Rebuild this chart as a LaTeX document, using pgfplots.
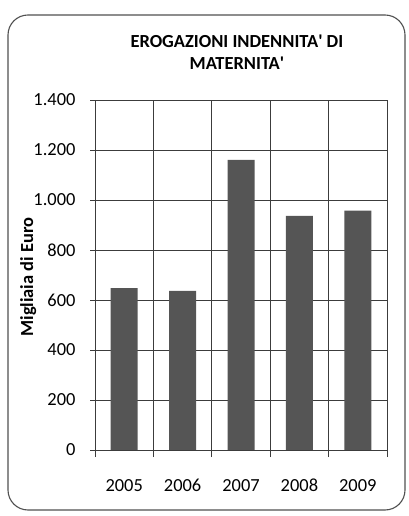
\documentclass[border=0pt]{standalone}
\usepackage{fontspec}
\setmainfont{Carlito}
\usepackage{pgfplots}
\pgfplotsset{compat=1.18}

\definecolor{bargray}{HTML}{555555}
\definecolor{gridgray}{HTML}{3C3C3C}
\definecolor{framegray}{HTML}{505050}

\begin{document}
\begin{tikzpicture}[x=1bp,y=1bp]
% page = 408 x 516 px
\path[use as bounding box] (0,0) rectangle (408,516);
\draw[framegray, line width=1.1bp, rounded corners=20bp] (8,6) rectangle (405,501);

\begin{axis}[
    at={(95bp,66bp)}, anchor=south west,
    scale only axis,
    width=292bp, height=350bp,
    font=\fontsize{18.5}{22}\selectfont,
    xmin=-0.5, xmax=4.5,
    ymin=0, ymax=1400,
    xtick={0,1,2,3,4},
    xticklabels={2005,2006,2007,2008,2009},
    minor xtick={-0.5,0.5,1.5,2.5,3.5,4.5},
    ytick={0,200,400,600,800,1000,1200,1400},
    /pgf/number format/assume math mode=true,
    /pgf/number format/1000 sep={.},
    ymajorgrids, xminorgrids,
    major x tick style={draw=none},
    major y tick style={gridgray, line width=0.9bp},
    minor x tick style={gridgray, line width=0.9bp},
    major tick length=5bp,
    minor tick length=7bp,
    tick align=outside,
    tick pos=left,
    grid style={gridgray, line width=0.9bp},
    minor grid style={gridgray, line width=0.9bp},
    axis line style={gridgray, line width=0.9bp},
    yticklabel style={xshift=-11bp},
    xticklabel style={anchor=base, yshift=-36bp},
    ylabel={\bfseries Migliaia di Euro},
    ylabel style={at={(axis description cs:-0.229,0.494)}, anchor=center},
    title={\bfseries EROGAZIONI INDENNITA\textquotesingle\ DI\\\bfseries MATERNITA\textquotesingle},
    title style={at={(axis description cs:0.486,1.12)}, anchor=center, align=center},
    ybar, bar width=27bp,
]
\addplot[fill=bargray, draw=none] coordinates {
    (0,647) (1,636) (2,1160) (3,936) (4,957)
};
\end{axis}
\end{tikzpicture}
\end{document}
